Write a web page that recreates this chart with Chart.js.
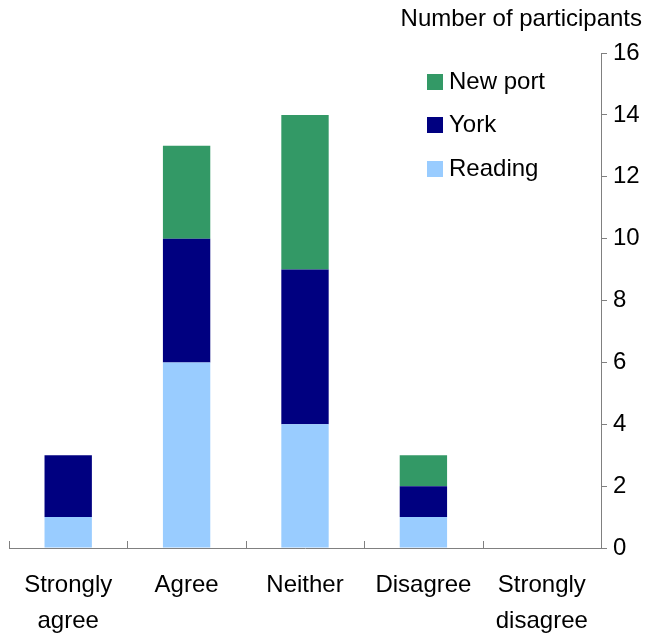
<!DOCTYPE html>
<html>
<head>
<meta charset="utf-8">
<script src="https://cdn.jsdelivr.net/npm/chart.js@4/dist/chart.umd.min.js"></script>
<style>
  html, body { margin: 0; padding: 0; background: #fff; }
  #wrap { width: 650px; height: 639px; }
</style>
</head>
<body>
<div id="wrap"><canvas id="myChart" width="650" height="639"></canvas></div>
<script>
(function () {
  'use strict'

var categorias = [['Strongly', 'agree'], 'Agree', 'Neither', 'Disagree', ['Strongly', 'disagree']]
var reading = [1, 6, 4, 1, 0]
var york = [2, 4, 5, 1, 0]
var newport = [0, 3, 5, 1, 0]
var yTicks = [0, 2, 4, 6, 8, 10, 12, 14, 16]

var fonte = '"Liberation Sans", Arial, sans-serif'
var axisColor = '#808080'

// titulo e legenda desenhados a mao
const extras = {
  id: 'extras',
  afterDraw(chart) {
    const c = chart.ctx
    const x = chart.scales.x
    c.save()
    // ticks do eixo x, entre categorias, para dentro
    c.strokeStyle = axisColor
    c.lineWidth = 1
    const step = (x.right - x.left) / categorias.length
    for (let i = 0; i <= categorias.length; i++) {
      const px = Math.round(x.left + i * step) + 0.5
      c.beginPath()
      c.moveTo(px, x.top)
      c.lineTo(px, x.top - 7)
      c.stroke()
    }
    c.fillStyle = '#000'
    c.font = '24px ' + fonte
    c.textAlign = 'right'
    c.textBaseline = 'middle'
    c.fillText('Number of participants', 642, 19)

    // legenda (ordem inversa)
    const ds = chart.data.datasets.slice().reverse()
    const rows = [82, 125, 169]
    c.textAlign = 'left'
    ds.forEach(function (d, i) {
      c.fillStyle = d.backgroundColor
      c.fillRect(427, rows[i] - 8, 16, 16)
      c.fillStyle = '#000'
      c.fillText(d.label, 449, rows[i])
    })
    c.restore()
  }
}

const ctx = document.getElementById('myChart').getContext('2d')

new Chart(ctx, {
  type: 'bar',
  data: {
    labels: categorias,
    datasets: [
      { label: 'Reading', data: reading, backgroundColor: '#99CCFF' },
      { label: 'York', data: york, backgroundColor: '#000080' },
      { label: 'New port', data: newport, backgroundColor: '#339966' }
    ]
  },
  options: {
    responsive: false,
    animation: false,
    layout: { padding: { top: 53, left: 9, right: 0, bottom: 0 } },
    plugins: {
      legend: { display: false },
      tooltip: { enabled: false }
    },
    datasets: {
      bar: { categoryPercentage: 1, barPercentage: 0.4 }
    },
    scales: {
      x: {
        stacked: true,
        grid: { display: false, drawTicks: false },
        border: { color: axisColor, width: 1 },
        ticks: {
          color: '#000',
          font: { size: 24, family: fonte, lineHeight: 1.5 },
          padding: 19,
          maxRotation: 0,
          autoSkip: false
        },
        afterFit: function (s) { s.height = 91 }
      },
      y: {
        stacked: true,
        position: 'right',
        min: 0,
        max: 16,
        afterBuildTicks: function (s) { s.ticks = yTicks.map(function (v) { return { value: v } }) },
        grid: { drawOnChartArea: false, tickLength: 6, color: axisColor },
        border: { color: axisColor, width: 1 },
        ticks: {
          color: '#000',
          font: { size: 24, family: fonte },
          padding: 6
        },
        afterFit: function (s) { s.width = 49 }
      }
    }
  },
  plugins: [extras]
})

})()
</script>
</body>
</html>
